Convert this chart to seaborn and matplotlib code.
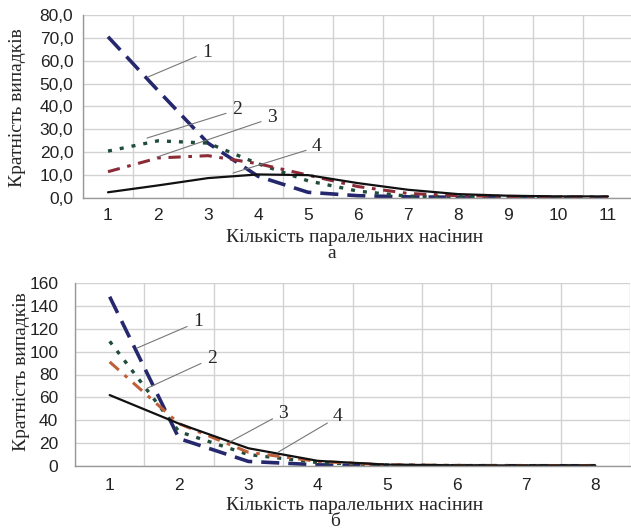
import matplotlib
matplotlib.use("Agg")
import matplotlib.pyplot as plt
import seaborn as sns
import pandas as pd
import numpy as np

# Data
x_a = [1, 2, 3, 4, 5, 6, 7, 8, 9, 10, 11]
a_s1 = [70.5, 47.0, 24.0, 9.5, 2.5, 1.0, 0.5, 0.3, 0.2, 0.1, 0.1]
a_s2 = [20.5, 25.0, 24.0, 15.0, 7.5, 3.0, 0.8, 0.5, 0.4, 0.3, 0.2]
a_s3 = [11.5, 17.5, 18.5, 15.0, 10.0, 5.0, 2.0, 1.0, 0.7, 0.5, 0.4]
a_s4 = [2.5, 5.5, 8.7, 10.3, 10.0, 6.5, 3.6, 1.7, 1.0, 0.7, 0.7]

x_b = [1, 2, 3, 4, 5, 6, 7, 8]
b_s1 = [148, 24, 4, 1, 0.3, 0.2, 0.2, 0.2]
b_s2 = [109, 30, 10, 3, 0.8, 0.4, 0.3, 0.3]
b_s3 = [91, 37, 12, 4, 1.0, 0.5, 0.4, 0.4]
b_s4 = [62, 37, 15.5, 4.5, 1.2, 0.6, 0.5, 0.5]

ylabel = "Кратність випадків"
xlabel = "Кількість паралельних насінин"

sns.set_style("white")
SERIF = ["Liberation Serif", "DejaVu Serif"]
SANS = ["Liberation Sans", "DejaVu Sans"]

W, H = 631, 530
fig = plt.figure(figsize=(W / 100, H / 100), dpi=100)


def px_axes(left, right, top, bottom):
    return fig.add_axes([left / W, 1 - bottom / H, (right - left) / W, (bottom - top) / H])


styles = [
    dict(color="#26286e", lw=2.6, ls=(0, (5, 2.5))),
    dict(color="#1f4d3a", lw=2.4, ls=(0, (1.2, 2.4))),
    None,
    dict(color="#111111", lw=1.6, ls="-"),
]


def draw(ax, xs, series, ymax, ystep, fmt, red, ypad, xpad):
    for ys, st in zip(series, styles):
        if st is None:
            st = dict(color=red, lw=2.2, ls=(0, (4, 2.5, 1.2, 2.5)))
        sns.lineplot(x=xs, y=ys, ax=ax, color=st["color"], linewidth=st["lw"],
                     linestyle=st["ls"])
    n = len(xs)
    ax.set_xlim(0.5, n + 0.5)
    ax.set_ylim(0, ymax)
    ax.set_xticks(xs)
    ax.set_xticklabels([str(v) for v in xs], family=SANS, fontsize=12.5)
    ax.set_xticks(np.arange(0.5, n + 1, 1), minor=True)
    yt = np.arange(0, ymax + 0.1, ystep)
    ax.set_yticks(yt)
    ax.set_yticklabels([fmt(v) for v in yt], family=SANS, fontsize=12.5)
    ax.tick_params(axis="x", which="major", length=0, pad=xpad, colors="#222222")
    ax.tick_params(axis="x", which="minor", length=5, color="#999999", direction="out")
    ax.tick_params(axis="y", length=5, color="#999999", pad=ypad, colors="#222222")
    ax.tick_params(axis="y", color="#999999")
    ax.grid(True, which="major", axis="y", color="#d2d2d2", lw=1)
    ax.grid(True, which="minor", axis="x", color="#d2d2d2", lw=1)
    ax.grid(False, which="major", axis="x")
    for s in ["top", "right"]:
        ax.spines[s].set_visible(False)
    for s in ["left", "bottom"]:
        ax.spines[s].set_color("#999999")
        ax.spines[s].set_linewidth(1)
    ax.set_xlabel("")
    ax.set_ylabel("")


def labels(ax, items):
    for txt, xy, xyt in items:
        ax.annotate(txt, xy=xy, xytext=xyt, ha="left", va="center",
                    family=SERIF, fontsize=14,
                    arrowprops=dict(arrowstyle="-", color="#777777", lw=0.8,
                                    shrinkA=2, shrinkB=0))


ax1 = px_axes(83, 633, 15, 198)
draw(ax1, x_a, [a_s1, a_s2, a_s3, a_s4], 80, 10,
     lambda v: f"{v:.1f}".replace(".", ","), "#8c2b38", 2, 7)
labels(ax1, [("1", (1.8, 52.9), (2.88, 63.8)),
             ("2", (1.78, 26.2), (3.48, 38.5)),
             ("3", (1.98, 17.9), (4.18, 35.0)),
             ("4", (3.5, 10.9), (5.08, 22.3))])

ax2 = px_axes(75, 630, 283, 466)
draw(ax2, x_b, [b_s1, b_s2, b_s3, b_s4], 160, 20,
     lambda v: f"{int(v)}", "#c0603a", 7, 9)
labels(ax2, [("1", (1.39, 103), (2.2, 126)),
             ("2", (1.54, 68), (2.4, 94)),
             ("3", (2.73, 21), (3.43, 46.3)),
             ("4", (3.43, 12.2), (4.22, 43))])


def ftext(x, y, s, **kw):
    fig.text(x / W, 1 - y / H, s, ha="center", va="center", family=SERIF,
             fontsize=14, **kw)


ftext(355, 237, xlabel)
ftext(332, 254, "а")
ftext(18, 108, ylabel, rotation=90)
ftext(355, 506, xlabel)
ftext(335, 522, "б")
ftext(22, 372, ylabel, rotation=90)

fig.savefig("out.png", dpi=100)
